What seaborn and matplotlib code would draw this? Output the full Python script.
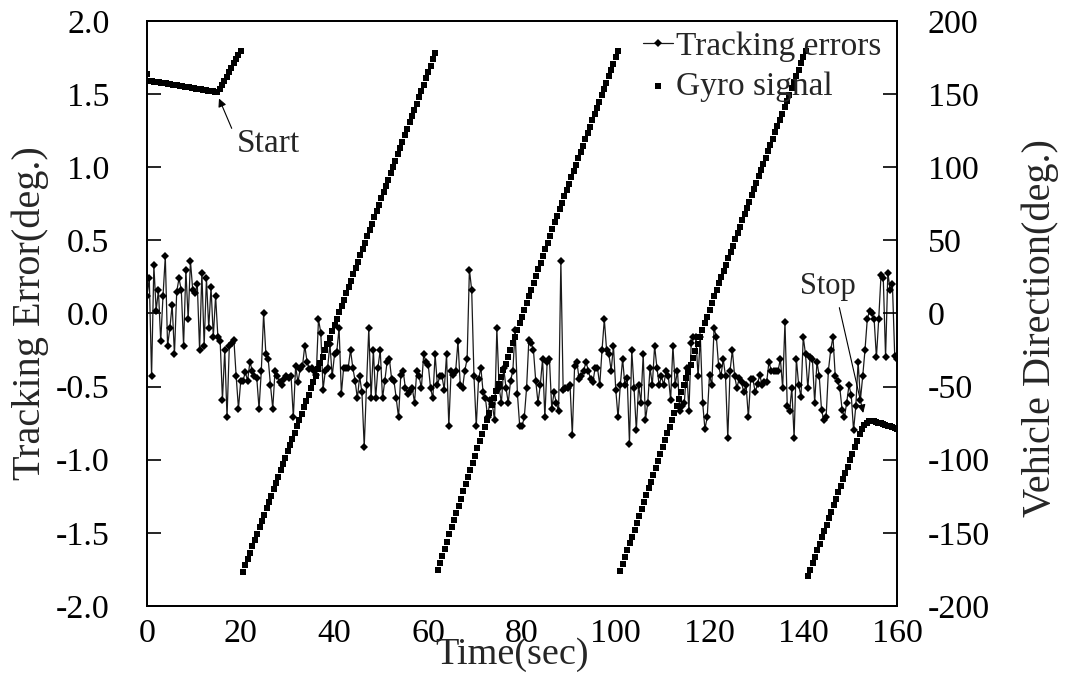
import numpy as np
import pandas as pd
import matplotlib
matplotlib.use("Agg")
import matplotlib.pyplot as plt
import seaborn as sns

# ---------------- data ----------------
tracking_error = [
    0.12, 0.24, -0.43, 0.33, 0.02, 0.16, -0.19, 0.12, 0.39, -0.22,
    -0.10, 0.06, -0.28, 0.15, 0.24, 0.16, -0.22, 0.30, -0.04, 0.36,
    0.16, 0.14, 0.20, -0.25, 0.28, -0.22, 0.24, -0.10, 0.18, -0.16,
    0.12, -0.16, -0.19, -0.59, -0.25, -0.71, -0.22, -0.20, -0.18, -0.43,
    -0.65, -0.46, -0.46, -0.40, -0.46, -0.33, -0.39, -0.43, -0.44, -0.65,
    -0.39, 0.00, -0.28, -0.31, -0.49, -0.65, -0.39, -0.43, -0.47, -0.49,
    -0.45, -0.43, -0.44, -0.43, -0.71, -0.36, -0.47, -0.38, -0.36, -0.22,
    -0.33, -0.38, -0.37, -0.39, -0.42, -0.04, -0.13, -0.52, -0.39, -0.37,
    -0.21, -0.43, -0.28, -0.26,
    -0.10, -0.55, -0.37, -0.37, -0.37, -0.25, -0.37, -0.46, -0.58, -0.43,
    -0.54, -0.91, -0.49, -0.10, -0.58, -0.25, -0.58, -0.37, -0.25, -0.58,
    -0.46, -0.33, -0.31, -0.45, -0.46, -0.58, -0.71, -0.42, -0.39, -0.51,
    -0.55, -0.53, -0.51, -0.61, -0.39, -0.43, -0.51, -0.28, -0.33, -0.35,
    -0.51, -0.58, -0.28, -0.49, -0.43, -0.43, -0.52, -0.28, -0.77, -0.39,
    -0.42, -0.39, -0.19, -0.49, -0.51, -0.39, -0.31, 0.30, 0.16, -0.43,
    -0.77, -0.45, -0.37, -0.54, -0.58, -0.71, -0.59, -0.62, -0.73, -0.10,
    -0.51, -0.61, -0.37,
    -0.51, -0.61, -0.46, -0.39, -0.11, -0.55, -0.77, -0.77, -0.71, -0.51,
    -0.18, -0.20, -0.25, -0.46, -0.61, -0.49, -0.31, -0.71, -0.33, -0.31,
    -0.65, -0.54, -0.61, -0.67, 0.36, -0.52, -0.51, -0.51, -0.49, -0.83,
    -0.36, -0.33, -0.45, -0.43, -0.39, -0.33, -0.39, -0.45, -0.47, -0.37,
    -0.37, -0.49, -0.25, -0.04, -0.25, -0.28, -0.39, -0.22, -0.52, -0.71,
    -0.49, -0.31, -0.49, -0.44, -0.89, -0.25, -0.51, -0.80, -0.49, -0.61,
    -0.28, -0.73, -0.61, -0.37, -0.49, -0.22, -0.37, -0.49, -0.43, -0.49,
    -0.39, -0.43, -0.59, -0.22, -0.49, -0.39, -0.67, -0.63,
    -0.61, -0.37, -0.67, -0.20, -0.16, -0.16, -0.43, -0.16, -0.61, -0.79,
    -0.71, -0.42, -0.49, -0.10, -0.16, -0.36, -0.43, -0.31, -0.43, -0.85,
    -0.39, -0.25, -0.43, -0.51, -0.44, -0.47, -0.54, -0.49, -0.71, -0.45,
    -0.45, -0.54, -0.48, -0.42, -0.49, -0.47, -0.47, -0.33, -0.39, -0.39,
    -0.39, -0.39, -0.31, -0.51, -0.06, -0.63, -0.67, -0.51, -0.85, -0.31,
    -0.49, -0.57, -0.16, -0.28, -0.51, -0.30, -0.31, -0.61, -0.33, -0.43,
    -0.66, -0.73, -0.71, -0.39, -0.25, -0.16, -0.43, -0.46, -0.51, -0.66,
    -0.71, -0.61, -0.49, -0.56, -0.80, -0.63, -0.33, -0.59, -0.43, -0.25,
    -0.04, 0.02, 0.00, -0.04, -0.30, -0.04, 0.26, 0.24, -0.30, 0.28,
    0.16, 0.20, -0.29, -0.31,
]

gyro_signal = [
    163.5,
    159.0, 158.8, 158.5, 158.3, 158.0, 157.8, 157.5, 157.3, 157.0, 156.8,
    156.5, 156.2, 156.0, 155.7, 155.5, 155.2, 154.9, 154.6, 154.4, 154.1,
    153.8, 153.5, 153.3, 153.0, 152.7, 152.4, 152.1, 151.8, 151.5, 151.2,
    153.5, 156.2, 159.0, 162.0, 165.0, 168.0, 171.0, 174.0, 177.0, 179.5,
    -176.5, -172.2, -167.9, -163.5, -159.2, -154.9, -150.6, -146.2, -141.9, -137.6,
    -133.3, -128.9, -124.6, -120.3, -116.0, -111.6, -107.3, -103.0, -98.7, -94.3,
    -90.0, -85.7, -81.4, -77.0, -72.7, -68.4, -64.1, -59.7, -55.4, -51.1,
    -46.8, -42.4, -38.1, -33.8, -29.5, -25.1, -20.8, -16.5, -12.2, -7.8,
    -3.5, 0.8, 5.1, 9.5, 13.8, 18.1, 22.4, 26.8, 31.1, 35.4,
    39.7, 44.1, 48.4, 52.7, 57.0, 61.4, 65.7, 70.0, 74.3, 78.7,
    83.0, 87.3, 91.6, 96.0, 100.3, 104.6, 108.9, 113.3, 117.6, 121.9,
    126.2, 130.6, 134.9, 139.2, 143.5, 147.9, 152.2, 156.5, 160.8, 165.2,
    169.5, 173.8, 178.1,
    -175.5, -170.6, -165.7, -160.8, -155.9, -151.0, -146.1, -141.2, -136.3, -131.4,
    -126.5, -121.6, -116.7, -111.8, -106.9, -102.0, -97.1, -92.2, -87.3, -82.4,
    -77.5, -72.6, -67.7, -62.8, -57.9, -53.0, -48.1,
    -43.5, -38.9, -34.3, -29.7, -25.1, -20.5, -15.9, -11.3, -6.7, -2.1,
    2.5, 7.1, 11.7, 16.3, 20.9, 25.5, 30.1, 34.7, 39.3, 43.9,
    48.5, 53.1, 57.7, 62.3, 66.9, 71.5,
    75.8, 80.1, 84.5, 88.8, 93.1, 97.4, 101.7, 106.1, 110.4, 114.7,
    119.0, 123.3, 127.7, 132.0, 136.3, 140.6, 144.9, 149.3, 153.6, 157.9,
    162.2, 166.5, 170.9, 175.2, 179.5,
    -176.0,
    -171.3, -166.6, -161.9, -157.2, -152.5, -147.8, -143.1, -138.4, -133.7, -129.0,
    -124.3, -119.6, -114.9, -110.2, -105.5, -100.8, -96.1, -91.4, -86.7, -82.0,
    -77.3, -72.6, -67.9, -63.2, -58.5, -53.8, -49.1, -44.4, -39.7, -35.0,
    -30.3, -25.6, -20.9, -16.2, -11.5, -6.8, -2.1, 2.6, 7.3, 12.0,
    16.3, 20.6, 24.9, 29.2, 33.5, 37.8, 42.1, 46.4, 50.7, 55.0,
    59.3, 63.6, 67.9, 72.2, 76.5, 80.8, 85.1, 89.4, 93.7, 98.0,
    102.3, 106.6, 110.9, 115.2, 119.5, 123.8, 128.1, 132.4, 136.7, 141.0,
    145.3, 149.6, 153.9, 158.2, 162.5, 166.8, 171.1, 175.4, 179.7,
    -179.5, -175.1, -170.7, -166.3, -161.9, -157.5, -153.1, -148.7, -144.3, -139.9,
    -135.5, -131.1, -126.7, -122.3, -117.9, -113.5, -109.1, -104.7, -100.3, -95.9,
    -91.5, -87.1, -82.7,
    -78.8, -76.2, -74.6, -73.8, -73.5, -73.7, -74.1, -74.6, -75.1, -75.6,
    -76.1, -76.6, -77.2, -77.8, -78.4, -79.0,
]

x_ticks = [0, 20, 40, 60, 80, 100, 120, 140, 160]
left_ticks = [-2.0, -1.5, -1.0, -0.5, 0.0, 0.5, 1.0, 1.5, 2.0]
right_ticks = [-200, -150, -100, -50, 0, 50, 100, 150, 200]
series_names = ["Tracking errors", "Gyro signal"]
gyro_step = 0.5  # sampling interval of the gyro (s)

# ---------------- style ----------------
sns.set_theme(style="white")
plt.rcParams["font.family"] = ["Liberation Serif", "DejaVu Serif"]
plt.rcParams["axes.unicode_minus"] = False

W, H = 1065, 674
fig = plt.figure(figsize=(W / 100, H / 100), dpi=100)
L, R, T, B = 147, 897, 21, 606
ax = fig.add_axes([L / W, 1 - B / H, (R - L) / W, (B - T) / H])
ax2 = ax.twinx()

df_err = pd.DataFrame({"Time": np.linspace(0, 160, len(tracking_error)),
                       "err": tracking_error})
df_gyro = pd.DataFrame({"Time": np.arange(len(gyro_signal)) * gyro_step,
                        "dir": gyro_signal})

sns.lineplot(data=df_err, x="Time", y="err", ax=ax, color="#1a1a1a",
             linewidth=0.9, marker="D", markersize=4.2, markeredgewidth=0,
             markerfacecolor="black", estimator=None, sort=False,
             label=series_names[0], legend=False)
sns.scatterplot(data=df_gyro, x="Time", y="dir", ax=ax2, marker="s", s=18,
                color="black", linewidth=0, label=series_names[1], legend=False)

ax.set_xlim(0, 160)
ax.set_ylim(-2.0, 2.0)
ax2.set_ylim(-200, 200)
ax.set_xticks(x_ticks)
ax.set_xticklabels([str(v) for v in x_ticks])
ax.set_yticks(left_ticks)
ax.set_yticklabels([f"{v:.1f}" for v in left_ticks])
ax2.set_yticks(right_ticks)
ax2.set_yticklabels([str(v) for v in right_ticks])

for a in (ax, ax2):
    for s in a.spines.values():
        s.set_visible(True)
        s.set_color("black")
        s.set_linewidth(1.3)
    a.grid(False)

ax.tick_params(axis="x", direction="in", length=10, width=1.2, labelsize=24.5,
               pad=9, colors="black", top=False)
ax.tick_params(axis="y", direction="in", length=10, width=1.2, labelsize=24.5,
               pad=27, colors="black", right=False)
ax2.tick_params(axis="y", direction="in", length=10, width=1.2, labelsize=24.5,
                pad=22, colors="black")

ax.set_xlabel("Time(sec)", fontsize=27.5, va="baseline")
ax.xaxis.set_label_coords((512 - L) / (R - L), (B - 664) / (B - T))
ax.set_ylabel("Tracking Error(deg.)", fontsize=29, va="center")
ax.yaxis.set_label_coords((30 - L) / (R - L), (B - 313) / (B - T))
ax2.set_ylabel("Vehicle Direction(deg.)", fontsize=29, va="center", rotation=90)
ax2.yaxis.set_label_coords((1040 - L) / (R - L), (B - 328) / (B - T))

# annotations
ax.annotate("", xy=(15.36, 1.47), xytext=(18.07, 1.266),
            arrowprops=dict(arrowstyle="-|>", color="black", lw=0.8,
                            mutation_scale=12, shrinkA=0, shrinkB=0))
ax.text(19.2, 1.106, "Start", fontsize=24, ha="left", va="baseline")
ax.annotate("", xy=(152.8, -0.68), xytext=(147.7, 0.04),
            arrowprops=dict(arrowstyle="-|>", color="black", lw=0.8,
                            mutation_scale=12, shrinkA=0, shrinkB=0))
ax.text(139.3, 0.13, "Stop", fontsize=22, ha="left", va="baseline")

# legend
h1, l1 = ax.get_legend_handles_labels()
h2, l2 = ax2.get_legend_handles_labels()
leg = ax2.legend(h1 + h2, l1 + l2, loc="upper left",
                 bbox_to_anchor=(643 / W, 1 - 31 / H),
                 bbox_transform=fig.transFigure, frameon=False,
                 fontsize=24, handlelength=0.9, handletextpad=0.1,
                 labelspacing=0.3, borderpad=0, borderaxespad=0,
                 markerscale=1.0)

fig.savefig("out.png", dpi=100)
